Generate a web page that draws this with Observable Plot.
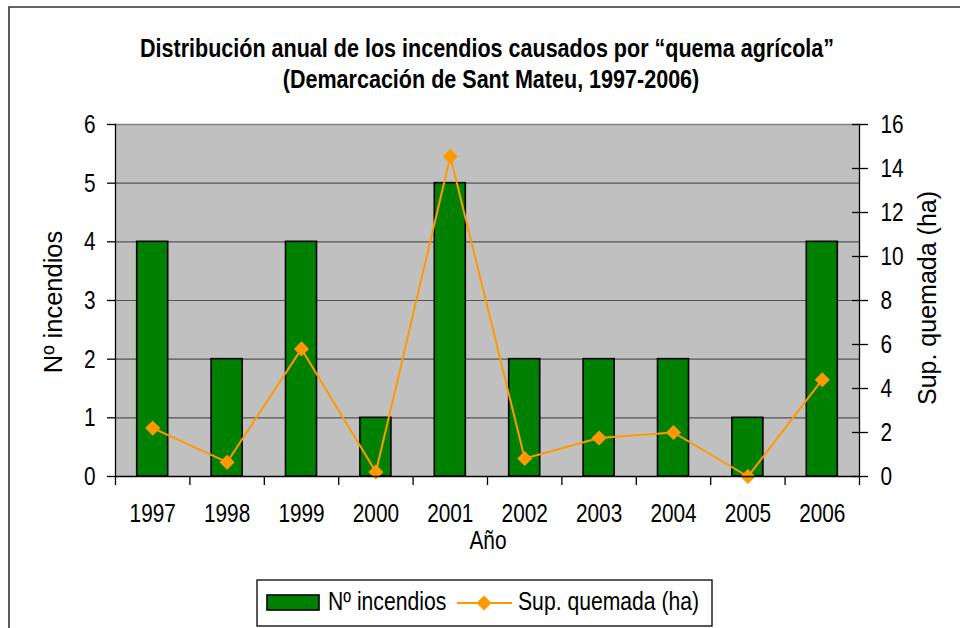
<!DOCTYPE html>
<html>
<head>
<meta charset="utf-8">
<script src="https://cdn.jsdelivr.net/npm/d3@7"></script>
<script src="https://cdn.jsdelivr.net/npm/@observablehq/plot@0.6"></script>
<style>
  html, body { margin: 0; padding: 0; background: #fff; }
  #chart svg { display: block; }
</style>
</head>
<body>
<div id="chart"></div>
<script>
// ---- data ----
const years = [1997, 1998, 1999, 2000, 2001, 2002, 2003, 2004, 2005, 2006];
const fires = [4, 2, 4, 1, 5, 2, 2, 2, 1, 4];
const burned = [2.2, 0.65, 5.8, 0.2, 14.55, 0.82, 1.75, 2.0, 0.0, 4.4];
const leftTicks = [0, 1, 2, 3, 4, 5, 6];
const rightTicks = [0, 2, 4, 6, 8, 10, 12, 14, 16];
const titleLines = ["Distribución anual de los incendios causados por “quema agrícola”", "(Demarcación de Sant Mateu, 1997-2006)"];
const xLabel = "Año";
const yLeftLabel = "Nº incendios";
const yRightLabel = "Sup. quemada (ha)";
const seriesNames = ["Nº incendios", "Sup. quemada (ha)"];

const leftMax = 6, rightMax = 16;
const toLeft = v => v * leftMax / rightMax;
const data = years.map((y, i) => ({year: y, fires: fires[i], burned: burned[i]}));

const W = 960, H = 628;
const mL = 115, mR = 101, mT = 124, mB = 152;
const step = (W - mL - mR) / years.length;
const FONT = '"Liberation Sans", Arial, sans-serif';
const NARROW = 0.8;
const GREEN = "#008000", ORANGE = "#ff9900";

const chart = Plot.plot({
  width: W, height: H,
  marginLeft: mL, marginRight: mR, marginTop: mT, marginBottom: mB,
  style: {fontFamily: FONT, fontSize: "26px", color: "#000", background: "#fff"},
  x: {type: "band", domain: years, padding: 0, round: false, axis: null},
  y: {domain: [0, leftMax], axis: null},
  marks: [
    Plot.frame({fill: "#c0c0c0", stroke: null}),
    Plot.gridY(leftTicks, {stroke: "#555", strokeOpacity: 1, strokeWidth: 1.2}),
    Plot.ruleY([leftMax], {stroke: "#808080", strokeWidth: 1.5}),
    Plot.barY(data, {x: "year", y: "fires", fill: GREEN, stroke: "#000", strokeWidth: 1.6, insetLeft: 21.7, insetRight: 21.7}),
    Plot.line(data, {x: "year", y: d => toLeft(d.burned), stroke: ORANGE, strokeWidth: 2}),
    Plot.dot(data, {x: "year", y: d => toLeft(d.burned), symbol: "diamond2", r: 6.8, fill: ORANGE, stroke: null}),
    Plot.frame({anchor: "left", stroke: "#000", strokeWidth: 1.3}),
    Plot.frame({anchor: "right", stroke: "#000", strokeWidth: 1.3}),
    Plot.ruleY([0], {stroke: "#000", strokeWidth: 1.3}),
    Plot.ruleX(years, {x: d => d, dx: -step / 2, y1: 0, y2: 0, insetBottom: -9, stroke: "#000", strokeWidth: 1.3}),
    Plot.ruleX(years.slice(-1), {x: d => d, dx: step / 2, y1: 0, y2: 0, insetBottom: -9, stroke: "#000", strokeWidth: 1.3}),
    Plot.axisX({tickSize: 0, tickPadding: 27, fontSize: 26, label: null, tickFormat: d => String(d)}),
    Plot.axisY(leftTicks, {anchor: "left", tickSize: 8, tickPadding: 12, fontSize: 26, label: null, strokeWidth: 1.3,
      tickFormat: d => String(d)}),
    Plot.axisY(rightTicks.map(toLeft), {anchor: "right", tickSize: 8, tickPadding: 13, fontSize: 26, label: null, strokeWidth: 1.3,
      tickFormat: d => String(Math.round(d * rightMax / leftMax))}),
    Plot.axisY(rightTicks.map(toLeft), {anchor: "right", tickSize: -8, text: null, label: null, strokeWidth: 1.3})
  ]
});

const svg = d3.select(chart);

// condensed look for tick labels (scale around each label's anchor point)
svg.selectAll('g[aria-label$="tick label"] text').each(function () {
  const t = this.getAttribute("transform");
  if (t) {
    this.setAttribute("transform", t + ` scale(${NARROW},1)`);
  } else {
    const x = +this.getAttribute("x") || 0, y = +this.getAttribute("y") || 0;
    this.removeAttribute("x"); this.removeAttribute("y");
    this.setAttribute("transform", `translate(${x},${y}) scale(${NARROW},1)`);
  }
});

// outer chart border (right/bottom cut off)
svg.append("path").attr("d", `M9,${H + 5}V7H${W + 5}`).attr("fill", "none").attr("stroke", "#333").attr("stroke-width", 1.6);

function label(parent, x, y, txt, {size = 25, weight = "normal", anchor = "middle", sx = NARROW, rotate = 0} = {}) {
  return parent.append("text")
    .attr("transform", `translate(${x},${y})` + (rotate ? ` rotate(${rotate})` : "") + ` scale(${sx},1)`)
    .attr("text-anchor", anchor).attr("font-size", size).attr("font-weight", weight)
    .attr("font-family", FONT).attr("fill", "#000").text(txt);
}

const g = svg.append("g");
label(g, 487, 57, titleLines[0], {size: 25.5, weight: "bold", sx: 0.845});
label(g, 491, 88, titleLines[1], {size: 25.5, weight: "bold", sx: 0.845});
label(g, 488, 549, xLabel, {size: 25.5, sx: 0.82});
label(g, 62, 302, yLeftLabel, {size: 25.5, rotate: -90, sx: 1});
label(g, 936, 298, yRightLabel, {size: 25, rotate: -90, sx: 1});

// legend
const lg = svg.append("g");
lg.append("rect").attr("x", 257).attr("y", 580).attr("width", 455).attr("height", 46).attr("fill", "#fff").attr("stroke", "#000").attr("stroke-width", 1.3);
lg.append("rect").attr("x", 267).attr("y", 595).attr("width", 52).attr("height", 15).attr("fill", GREEN).attr("stroke", "#000").attr("stroke-width", 1.6);
label(lg, 328, 610, seriesNames[0], {size: 25.5, anchor: "start", sx: 0.83});
lg.append("line").attr("x1", 457).attr("x2", 512).attr("y1", 603).attr("y2", 603).attr("stroke", ORANGE).attr("stroke-width", 2);
lg.append("path").attr("transform", "translate(484,603)").attr("d", d3.symbol(d3.symbolDiamond2, Math.PI * 6.8 * 6.8)()).attr("fill", ORANGE);
label(lg, 518, 610, seriesNames[1], {size: 25.5, anchor: "start", sx: 0.83});

document.getElementById("chart").appendChild(chart);
</script>
</body>
</html>
